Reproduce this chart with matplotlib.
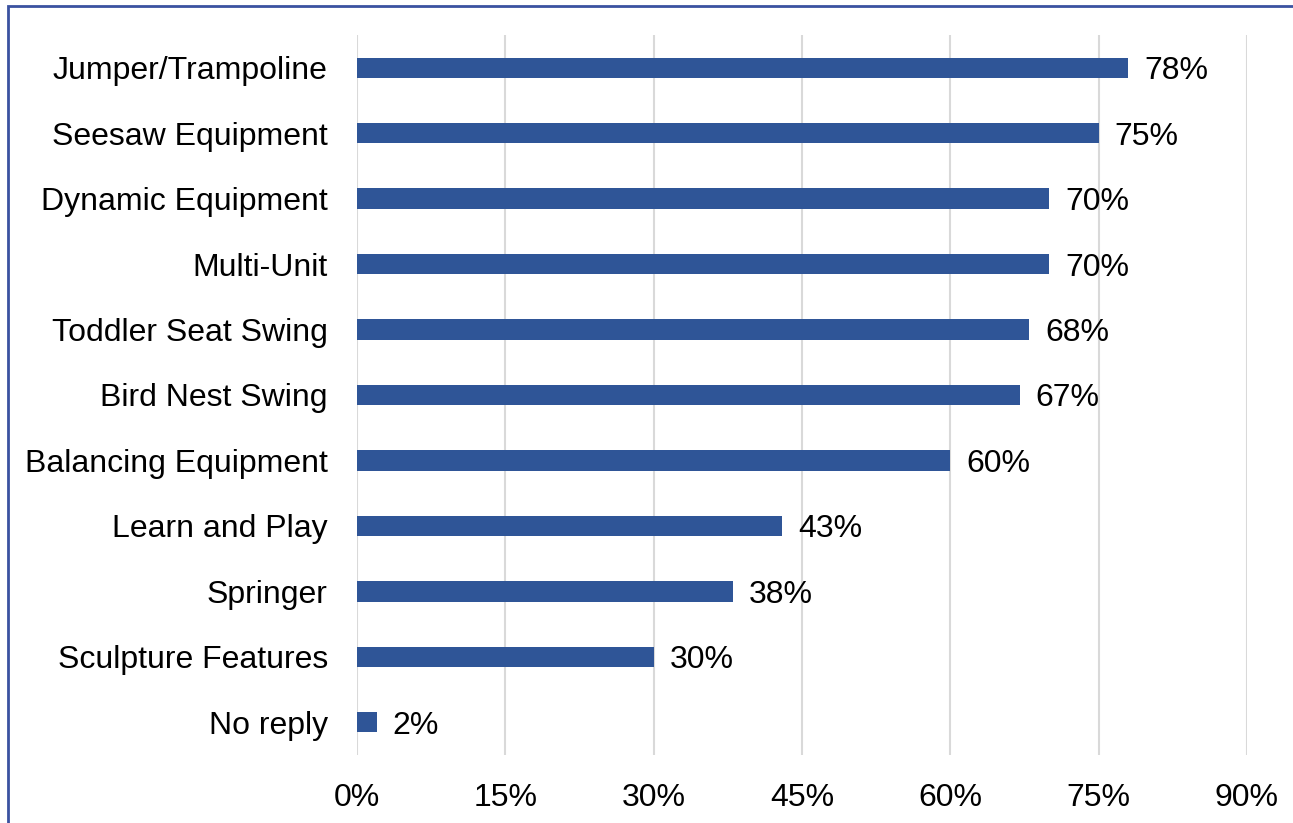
import matplotlib.pyplot as plt
from matplotlib.patches import Rectangle

plt.rcParams['font.family'] = ['Liberation Sans', 'DejaVu Sans']

categories = ["Jumper/Trampoline", "Seesaw Equipment", "Dynamic Equipment", "Multi-Unit",
              "Toddler Seat Swing", "Bird Nest Swing", "Balancing Equipment", "Learn and Play",
              "Springer", "Sculpture Features", "No reply"]
values = [78, 75, 70, 70, 68, 67, 60, 43, 38, 30, 2]
xticks = [0, 15, 30, 45, 60, 75, 90]

fig = plt.figure(figsize=(12.93, 8.23), dpi=100)
ax = fig.add_axes([0.2761, 0.0826, 0.6883, 0.8749])

ypos = list(range(len(categories)))[::-1]
ax.barh(ypos, values, height=0.31, color="#2F5597", zorder=3)
for y, v in zip(ypos, values):
    ax.text(v + 1.6, y, f"{v}%", va="center_baseline", ha="left", fontsize=23, color="black")

ax.set_xlim(0, 90)
ax.set_ylim(-0.5, len(categories) - 0.5)
ax.set_xticks(xticks)
ax.set_xticklabels([f"{t}%" for t in xticks])
ax.set_yticks(ypos)
ax.set_yticklabels(categories, va="center_baseline")
ax.tick_params(axis="both", length=0, labelsize=23, colors="black")
ax.tick_params(axis="y", pad=21)
ax.tick_params(axis="x", pad=20)
ax.grid(axis="x", color="#d9d9d9", linewidth=1.5, zorder=0)
for s in ax.spines.values():
    s.set_visible(False)

# outer frame, only left and top edges visible
fig.patches.append(Rectangle((8 / 1293, -0.1), 1.2, 1.1 - 6 / 823,
                             transform=fig.transFigure, fill=False,
                             edgecolor="#3A52A0", linewidth=2))

fig.savefig("out.png", dpi=100)
